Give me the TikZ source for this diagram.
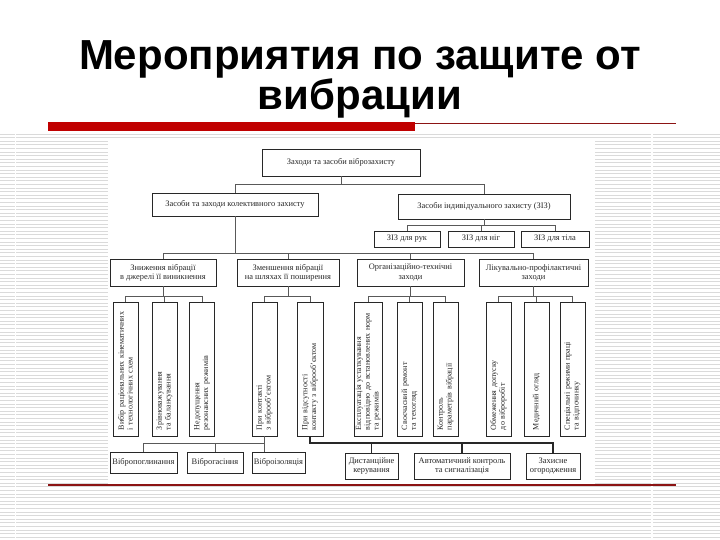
\documentclass[tikz,border=0pt]{standalone}
\usepackage{fontspec}
\setmainfont{Liberation Serif}
\newfontfamily\tfont{Liberation Sans}
\definecolor{redbar}{RGB}{192,0,0}
\definecolor{darkred}{RGB}{140,20,20}
\definecolor{stripe}{RGB}{218,218,218}
\definecolor{ink}{RGB}{40,40,40}
\newcommand{\dfont}{\fontsize{8.4}{9.2}\selectfont}
\newcommand{\vfont}{\fontsize{8}{8.8}\selectfont}
\begin{document}
\begin{tikzpicture}[x=1pt,y=-1pt,
  box/.style={draw=ink, line width=0.9pt, fill=white, inner sep=1pt, font=\dfont, align=center, text=ink},
  vbox/.style={box, font=\vfont, rotate=90, minimum width=134, text width=122, align=left},
  conn/.style={draw=black!65, line width=0.6pt},
  thickconn/.style={draw=ink, line width=1.3pt}]
\useasboundingbox (0,0) rectangle (720,540);
\fill[white] (0,0) rectangle (720,540);
% background stripes
\foreach \i in {0,...,112} \draw[stripe, line width=0.9pt] (0,{134+3.6*\i}) -- (720,{134+3.6*\i});
\fill[white] (14.5,132) rectangle (16,540);
\fill[white] (651,132) rectangle (652.5,540);
\fill[white] (108,140) rectangle (595,484);
% title
\node[font=\tfont\bfseries\fontsize{42}{35}\selectfont, align=center, anchor=base, inner sep=0pt] (title) at (360,110) {Мероприятия по защите от\\вибрации};
% rules
\fill[redbar] (48,122) rectangle (415,131);
\draw[darkred, line width=0.8pt] (415,123) -- (676,123);
\draw[darkred, line width=1.2pt] (48,485) -- (676,485);
% helper levels
\coordinate (y184) at (0,184);
\coordinate (y225) at (0,225);
\coordinate (y253) at (0,253);
\coordinate (y296) at (0,296);
\coordinate (y443) at (0,443);
% level 1
\node[box, minimum width=158, minimum height=27] (top) at (341,162.5) {Заходи та засоби віброзахисту};
\node[box, minimum width=166, minimum height=23] (coll) at (235,204.5) {Засоби та заходи колективного захисту};
\node[box, minimum width=172, minimum height=25] (ind) at (484,206.5) {Засоби індивідуального захисту (ЗІЗ)};
% PPE
\node[box, minimum width=66, minimum height=16] (z1) at (407,239) {ЗІЗ для рук};
\node[box, minimum width=66, minimum height=16] (z2) at (481,239) {ЗІЗ для ніг};
\node[box, minimum width=68, minimum height=16] (z3) at (555,239) {ЗІЗ для тіла};
% level 3
\node[box, minimum width=106, minimum height=27] (A) at (163,272.5) {Зниження вібрації\\в джерелі її виникнення};
\node[box, minimum width=102, minimum height=27] (B) at (288,272.5) {Зменшення вібрації\\на шляхах її поширення};
\node[box, minimum width=107, minimum height=27] (C) at (410.5,272.5) {Організаційно-технічні\\заходи};
\node[box, minimum width=109, minimum height=27] (D) at (533.5,272.5) {Лікувально-профілактичні\\заходи};
% vertical boxes
\node[vbox, minimum height=25] (A1) at (125.5,369) {Вибір раціональних кінематичних\\і технологічних схем};
\node[vbox, minimum height=25] (A2) at (164.5,369) {Зрівноважування\\та балансування};
\node[vbox, minimum height=25] (A3) at (202,369) {Недопущення\\резонансних режимів};
\node[vbox, minimum height=25] (B1) at (264.5,369) {При контакті\\з віброоб'єктом};
\node[vbox, minimum height=26] (B2) at (310,369) {При відсутності\\контакту з віброоб'єктом};
\node[vbox, minimum height=28] (C1) at (368,369) {Експлуатація устаткування\\відповідно до встановлених норм\\та режимів};
\node[vbox, minimum height=25] (C2) at (409.5,369) {Своєчасний ремонт\\та техогляд};
\node[vbox, minimum height=25] (C3) at (445.5,369) {Контроль\\параметрів вібрації};
\node[vbox, minimum height=25] (D1) at (498.5,369) {Обмеження допуску\\до віброробіт};
\node[vbox, minimum height=25] (D2) at (536.5,369) {Медичний огляд};
\node[vbox, minimum height=25] (D3) at (572.5,369) {Спеціальні режими праці\\та відпочинку};
% bottom boxes
\node[box, minimum width=67, minimum height=21] (V1) at (143.5,462.5) {Вібропоглинання};
\node[box, minimum width=56, minimum height=21] (V2) at (215,462.5) {Віброгасіння};
\node[box, minimum width=53, minimum height=21] (V3) at (278.5,462.5) {Віброізоляція};
\node[box, minimum width=53, minimum height=26] (R1) at (371.5,466) {Дистанційне\\керування};
\node[box, minimum width=96, minimum height=26] (R2) at (462,466) {Автоматичний контроль\\та сигналізація};
\node[box, minimum width=54, minimum height=26] (R3) at (553,466) {Захисне\\огородження};
% connectors
\draw[conn] (top.south) -- (top.south |- y184);
\draw[conn] (coll.north) |- (ind.north |- y184) -- (ind.north);
\draw[conn] (ind.south) -- (ind.south |- y225);
\draw[conn] (z1.north) |- (z3.north |- y225) -- (z3.north);
\draw[conn] (z2.north) -- (z2.north |- y225);
\draw[conn] (coll.south) -- (coll.south |- y253);
\draw[conn] (A.north) |- (D.north |- y253) -- (D.north);
\draw[conn] (B.north) -- (B.north |- y253);
\draw[conn] (C.north) -- (C.north |- y253);
\draw[conn] (A.south) -- (A.south |- y296);
\draw[conn] (A1.east) |- (A3.east |- y296) -- (A3.east);
\draw[conn] (A2.east) -- (A2.east |- y296);
\draw[conn] (B.south) -- (B.south |- y296);
\draw[conn] (B1.east) |- (B2.east |- y296) -- (B2.east);
\draw[conn] (C.south) -- (C.south |- y296);
\draw[conn] (C1.east) |- (C3.east |- y296) -- (C3.east);
\draw[conn] (C2.east) -- (C2.east |- y296);
\draw[conn] (D.south) -- (D.south |- y296);
\draw[conn] (D1.east) |- (D3.east |- y296) -- (D3.east);
\draw[conn] (D2.east) -- (D2.east |- y296);
\draw[conn] (B1.west) -- (B1.west |- V3.north);
\draw[conn] (V1.north) |- (B1.west |- y443);
\draw[conn] (V2.north) -- (V2.north |- y443);
\draw[thickconn] (B2.west) |- (R3.north |- y443) -- (R3.north);
\draw[thickconn] (R1.north) -- (R1.north |- y443);
\draw[thickconn] (R2.north) -- (R2.north |- y443);
\end{tikzpicture}
\end{document}
